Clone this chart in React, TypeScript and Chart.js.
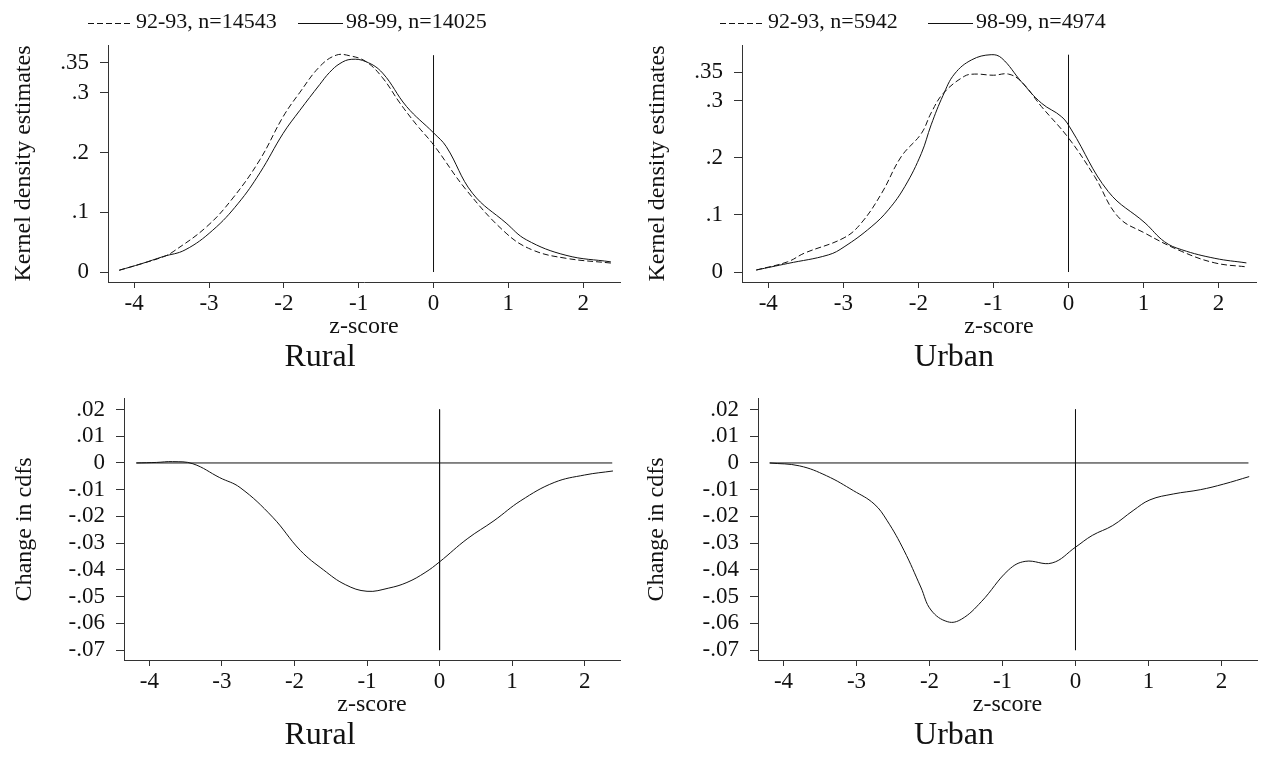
import React, { useEffect, useRef } from "react";
import { Chart, registerables } from "chart.js";

Chart.register(...registerables);

const FONT = "'Liberation Serif', 'Times New Roman', serif";
const INK = "#111111";
const AXIS = "#333333";

// Tick values
const zTicks = [-4, -3, -2, -1, 0, 1, 2];
const densityTicks = [0, 0.1, 0.2, 0.3, 0.35];
const changeTicks = [0.02, 0.01, 0, -0.01, -0.02, -0.03, -0.04, -0.05, -0.06, -0.07];

// Legend labels
const ruralLabel9293 = "92-93, n=14543";
const ruralLabel9899 = "98-99, n=14025";
const urbanLabel9293 = "92-93, n=5942";
const urbanLabel9899 = "98-99, n=4974";

// Rural kernel densities
const ruralZ9293 = [-4.2, -3.9, -3.6, -3.48, -3.03, -2.68, -2.32, -2.01, -1.79, -1.52, -1.3, -1.12, -0.9, -0.68, -0.45, -0.23, 0, 0.44, 0.97, 1.32, 1.77, 2.37];
const ruralK9293 = [0.003, 0.014, 0.026, 0.034, 0.076, 0.124, 0.188, 0.26, 0.3, 0.344, 0.363, 0.362, 0.352, 0.325, 0.283, 0.247, 0.213, 0.137, 0.065, 0.037, 0.023, 0.015];
const ruralZ9899 = [-4.2, -3.9, -3.61, -3.32, -2.95, -2.61, -2.32, -2.01, -1.79, -1.52, -1.39, -1.25, -1.1, -0.9, -0.68, -0.36, 0, 0.17, 0.52, 0.97, 1.24, 1.77, 2.37];
const ruralK9899 = [0.003, 0.014, 0.026, 0.037, 0.07, 0.115, 0.166, 0.232, 0.27, 0.314, 0.334, 0.349, 0.356, 0.352, 0.333, 0.277, 0.233, 0.21, 0.132, 0.082, 0.054, 0.028, 0.017];

// Urban kernel densities
const urbanZ9293 = [-4.16, -3.74, -3.52, -2.99, -2.76, -2.49, -2.23, -1.96, -1.83, -1.67, -1.39, -1.25, -1.0, -0.8, -0.63, -0.36, 0, 0.35, 0.66, 1.02, 1.51, 1.95, 2.37];
const urbanK9293 = [0.0035, 0.018, 0.033, 0.06, 0.086, 0.138, 0.202, 0.243, 0.279, 0.313, 0.343, 0.347, 0.345, 0.347, 0.334, 0.29, 0.235, 0.167, 0.097, 0.068, 0.036, 0.016, 0.009];
const urbanZ9899 = [-4.16, -3.74, -3.2, -2.99, -2.63, -2.4, -2.18, -1.96, -1.83, -1.67, -1.52, -1.29, -1.03, -0.89, -0.63, -0.36, -0.09, 0.04, 0.53, 1.02, 1.28, 1.51, 1.95, 2.37];
const urbanK9899 = [0.0035, 0.015, 0.03, 0.044, 0.079, 0.109, 0.15, 0.208, 0.258, 0.31, 0.347, 0.372, 0.381, 0.375, 0.334, 0.296, 0.272, 0.249, 0.141, 0.086, 0.053, 0.039, 0.024, 0.016];

// Change in cdfs
const ruralChangeZ = [-4.18, -3.9, -3.68, -3.4, -3.03, -2.75, -2.3, -1.92, -1.6, -1.3, -1.0, -0.7, -0.45, -0.2, 0, 0.38, 0.75, 1.12, 1.58, 2.0, 2.39];
const ruralChange = [0, 0.0002, 0.0005, -0.0003, -0.0055, -0.0092, -0.0203, -0.0327, -0.04, -0.0455, -0.048, -0.0468, -0.0447, -0.041, -0.037, -0.0284, -0.0216, -0.0141, -0.0073, -0.0045, -0.003];
const urbanChangeZ = [-4.19, -3.78, -3.41, -3.04, -2.76, -2.58, -2.35, -2.12, -1.98, -1.75, -1.56, -1.29, -0.92, -0.69, -0.32, 0, 0.23, 0.51, 0.79, 1.02, 1.34, 1.71, 2.03, 2.38];
const urbanChange = [0, -0.0011, -0.0048, -0.0104, -0.0153, -0.0216, -0.0327, -0.0464, -0.055, -0.0594, -0.0584, -0.0519, -0.0401, -0.0368, -0.0374, -0.0315, -0.0271, -0.0234, -0.0178, -0.0138, -0.0116, -0.01, -0.0079, -0.0051];

// Reference lines
const ruralDensityRef = [0, 0.363];
const urbanDensityRef = [0, 0.381];
const changeRef = [0.02, -0.07];
const ruralZeroSpan = [-4.18, 2.38];
const urbanZeroSpan = [-4.19, 2.37];

const pts = (xs: number[], ys: number[]) => xs.map((x, i) => ({ x, y: ys[i] }));
const fmt = (v: number) => {
  const s = String(Number(v.toFixed(3)));
  return s.replace(/^(-?)0\./, "$1.");
};

const legendPlugin = {
  id: "manualLegend",
  afterDraw(chart: any, _args: any, opts: any) {
    if (!opts || !opts.display) return;
    const ctx = chart.ctx;
    ctx.save();
    ctx.font = `22px ${FONT}`;
    ctx.fillStyle = INK;
    ctx.strokeStyle = INK;
    ctx.lineWidth = 1;
    ctx.textBaseline = "middle";
    ctx.textAlign = "left";
    let x = opts.x;
    chart.data.datasets.forEach((ds: any) => {
      if (!ds.label) return;
      ctx.setLineDash(ds.borderDash || []);
      ctx.beginPath();
      ctx.moveTo(x, Math.round(opts.y) + 0.5);
      ctx.lineTo(x + opts.sample, Math.round(opts.y) + 0.5);
      ctx.stroke();
      ctx.setLineDash([]);
      ctx.fillText(ds.label, x + opts.sample + opts.gap, opts.y);
      x += opts.col;
    });
    ctx.restore();
  },
};

const curve = (label: string, data: any[], dashed: boolean) => ({
  label,
  data,
  showLine: true,
  pointRadius: 0,
  borderColor: INK,
  borderWidth: 1,
  borderDash: dashed ? [6, 3] : [],
  tension: 0.4,
  fill: false,
});

const refLine = (data: any[]) => ({
  label: "",
  data,
  showLine: true,
  pointRadius: 0,
  borderColor: INK,
  borderWidth: 1,
  tension: 0,
  fill: false,
});

type PanelSpec = {
  left: number;
  top: number;
  width: number;
  height: number;
  padding: { left: number; right: number; top: number; bottom: number };
  yWidth: number;
  yTitle: string;
  yTitleLH: number;
  xMax: number;
  yMin: number;
  yMax: number;
  yTicks: number[];
  title: string;
  datasets: any[];
  legend?: { x: number; y: number; col: number };
};

function Panel({ spec }: { spec: PanelSpec }) {
  const ref = useRef<HTMLCanvasElement | null>(null);
  useEffect(() => {
    if (!ref.current) return;
    const chart = new Chart(ref.current, {
      type: "scatter",
      data: { datasets: spec.datasets },
      plugins: [legendPlugin],
      options: {
        animation: false,
        responsive: false,
        devicePixelRatio: 1,
        layout: { padding: spec.padding },
        plugins: {
          legend: { display: false },
          tooltip: { enabled: false },
          title: {
            display: true,
            text: spec.title,
            position: "bottom",
            color: INK,
            font: { family: FONT, size: 32, weight: "normal", lineHeight: 1 },
            padding: { top: 10, bottom: 0 },
          },
          manualLegend: spec.legend
            ? { display: true, x: spec.legend.x, y: spec.legend.y, col: spec.legend.col, sample: 45, gap: 3 }
            : { display: false },
        } as any,
        scales: {
          x: {
            type: "linear",
            min: -4.35,
            max: spec.xMax,
            afterBuildTicks: (s: any) => {
              s.ticks = zTicks.map((v) => ({ value: v }));
            },
            afterFit: (s: any) => {
              s.height = 50;
            },
            ticks: {
              color: INK,
              padding: 2,
              autoSkip: false,
              maxRotation: 0,
              font: { family: FONT, size: 23 },
              callback: (v: any) => fmt(Number(v)),
            },
            grid: { drawOnChartArea: false, drawTicks: true, tickLength: 6, color: AXIS },
            border: { display: true, color: AXIS, width: 1 },
            title: {
              display: true,
              text: "z-score",
              color: INK,
              font: { family: FONT, size: 24, lineHeight: 0.42 },
              padding: 0,
            },
          },
          y: {
            type: "linear",
            min: spec.yMin,
            max: spec.yMax,
            afterBuildTicks: (s: any) => {
              s.ticks = spec.yTicks.map((v) => ({ value: v }));
            },
            afterFit: (s: any) => {
              s.width = spec.yWidth;
            },
            ticks: {
              color: INK,
              padding: 11,
              autoSkip: false,
              font: { family: FONT, size: 23 },
              callback: (v: any) => fmt(Number(v)),
            },
            grid: { drawOnChartArea: false, drawTicks: true, tickLength: 8, color: AXIS },
            border: { display: true, color: AXIS, width: 1 },
            title: {
              display: true,
              text: spec.yTitle,
              color: INK,
              font: { family: FONT, size: 24, lineHeight: spec.yTitleLH },
              padding: 0,
            },
          },
        },
      } as any,
    });
    return () => chart.destroy();
  }, [spec]);
  return (
    <canvas
      ref={ref}
      width={spec.width}
      height={spec.height}
      style={{ position: "absolute", left: spec.left, top: spec.top, width: spec.width, height: spec.height }}
    />
  );
}

const panels: PanelSpec[] = [
  {
    left: 0,
    top: 0,
    width: 630,
    height: 374,
    padding: { left: 20, right: 10, top: 45, bottom: 0 },
    yWidth: 88,
    yTitle: "Kernel density estimates",
    yTitleLH: 0.33,
    xMax: 2.492,
    yMin: -0.0167,
    yMax: 0.38,
    yTicks: densityTicks,
    title: "Rural",
    legend: { x: 88, y: 22.5, col: 210 },
    datasets: [
      refLine(pts([0, 0], ruralDensityRef)),
      curve(ruralLabel9293, pts(ruralZ9293, ruralK9293), true),
      curve(ruralLabel9899, pts(ruralZ9899, ruralK9899), false),
    ],
  },
  {
    left: 630,
    top: 0,
    width: 633,
    height: 374,
    padding: { left: 22, right: 7, top: 45, bottom: 0 },
    yWidth: 90,
    yTitle: "Kernel density estimates",
    yTitleLH: 0.5,
    xMax: 2.498,
    yMin: -0.0175,
    yMax: 0.398,
    yTicks: densityTicks,
    title: "Urban",
    legend: { x: 90, y: 22.5, col: 208 },
    datasets: [
      refLine(pts([0, 0], urbanDensityRef)),
      curve(urbanLabel9293, pts(urbanZ9293, urbanK9293), true),
      curve(urbanLabel9899, pts(urbanZ9899, urbanK9899), false),
    ],
  },
  {
    left: 0,
    top: 374,
    width: 630,
    height: 383,
    padding: { left: 20, right: 10, top: 23, bottom: 5 },
    yWidth: 104,
    yTitle: "Change in cdfs",
    yTitleLH: 0.42,
    xMax: 2.487,
    yMin: -0.0737,
    yMax: 0.024,
    yTicks: changeTicks,
    title: "Rural",
    datasets: [
      refLine(pts([0, 0], changeRef)),
      refLine(pts(ruralZeroSpan, [0, 0])),
      curve("", pts(ruralChangeZ, ruralChange), false),
    ],
  },
  {
    left: 630,
    top: 374,
    width: 633,
    height: 383,
    padding: { left: 21, right: 6, top: 23, bottom: 5 },
    yWidth: 107,
    yTitle: "Change in cdfs",
    yTitleLH: 0.5,
    xMax: 2.487,
    yMin: -0.0737,
    yMax: 0.024,
    yTicks: changeTicks,
    title: "Urban",
    datasets: [
      refLine(pts([0, 0], changeRef)),
      refLine(pts(urbanZeroSpan, [0, 0])),
      curve("", pts(urbanChangeZ, urbanChange), false),
    ],
  },
];

export default function App() {
  return (
    <div style={{ position: "absolute", left: 0, top: 0, width: 1263, height: 757, background: "#ffffff", overflow: "hidden" }}>
      {panels.map((p, i) => (
        <Panel key={i} spec={p} />
      ))}
    </div>
  );
}
